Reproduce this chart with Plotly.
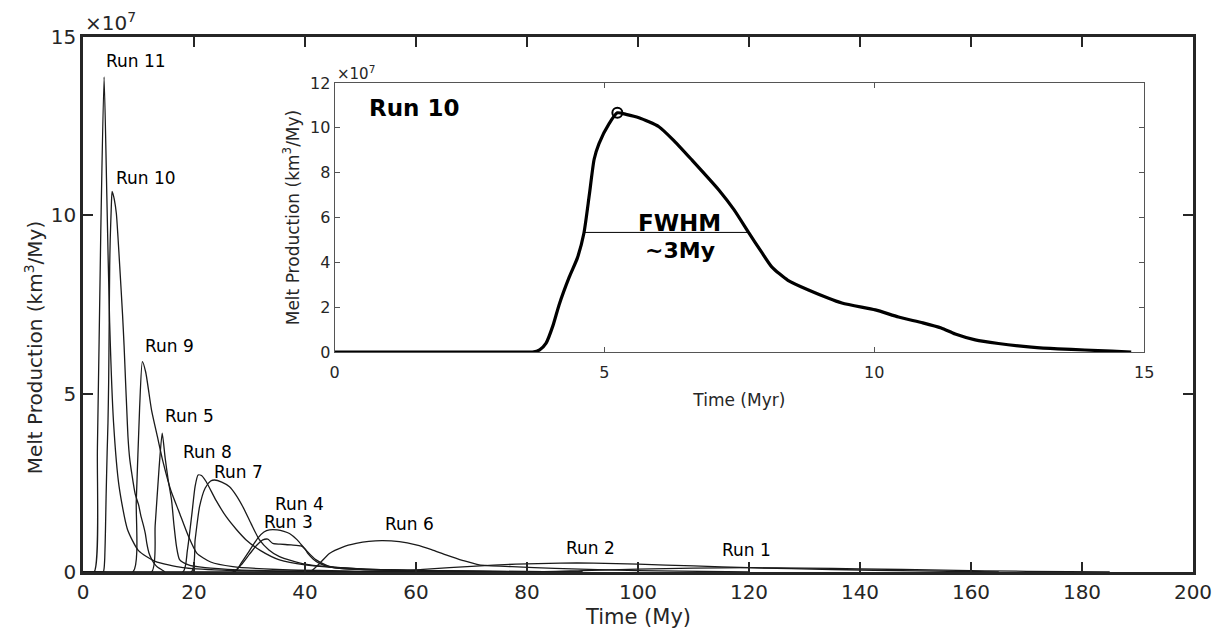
import plotly.graph_objects as go

# ---------------- data (values in units of 1e7 km^3/My) ----------------
run10_t = [0, 1, 2, 3, 3.5, 3.67, 3.8, 3.92, 4.05, 4.16, 4.35, 4.50, 4.62, 4.72, 4.81, 4.90, 5.09, 5.24,
           5.40, 5.64, 6.01, 6.30, 6.62, 7.12, 7.40, 7.68, 7.90, 8.10, 8.40, 8.78, 9.40, 10.02, 10.45,
           10.90, 11.24, 11.50, 11.87, 12.30, 12.91, 13.40, 13.90, 14.40, 14.76]
run10_y = [0, 0, 0, 0, 0, 0.0, 0.1, 0.4, 1.2, 2.1, 3.35, 4.2, 5.3, 7.0, 8.6, 9.3, 10.2, 10.67,
           10.6, 10.45, 10.05, 9.4, 8.57, 7.23, 6.35, 5.3, 4.5, 3.8, 3.2, 2.77, 2.19, 1.88, 1.56,
           1.3, 1.07, 0.8, 0.54, 0.38, 0.22, 0.14, 0.09, 0.04, 0.0]

run11_t = [0, 2.0, 2.6, 3.2, 3.8, 4.3, 4.8, 5.5, 6.5, 8, 10, 13, 18, 25, 35, 50]
run11_y = [0, 0, 3.5, 9.5, 13.88, 10.5, 7.0, 4.2, 2.4, 1.2, 0.6, 0.3, 0.12, 0.05, 0.02, 0]

run9_t = [0, 9.0, 9.6, 10.2, 10.7, 11.3, 12.35, 13.4, 14.4, 15.8, 17.4, 19.0, 20.5, 23, 27, 35, 50, 65]
run9_y = [0, 0, 2.0, 4.6, 5.9, 5.6, 4.54, 3.8, 3.1, 2.3, 1.65, 1.0, 0.53, 0.28, 0.15, 0.07, 0.02, 0]

run5_t = [0, 12.35, 13.0, 13.7, 14.27, 14.8, 15.35, 15.95, 16.4, 16.85, 17.4, 19, 22, 28, 40, 55]
run5_y = [0, 0, 1.3, 2.9, 3.89, 3.2, 2.58, 2.02, 1.3, 0.71, 0.35, 0.2, 0.12, 0.06, 0.02, 0]

run8_t = [0, 18.0, 18.8, 19.6, 20.2, 20.74, 21.4, 22.2, 24.0, 25.8, 27.6, 29.4, 32.0, 35.4, 40, 50, 65, 80]
run8_y = [0, 0, 0.6, 1.6, 2.4, 2.72, 2.7, 2.53, 2.0, 1.55, 1.2, 0.9, 0.6, 0.34, 0.2, 0.09, 0.03, 0]

run7_t = [0, 19.5, 20.2, 21.0, 22.0, 23.0, 23.7, 25.0, 26.4, 27.6, 28.8, 30.3, 31.8, 33.5, 35.4, 40, 50, 65, 85]
run7_y = [0, 0, 0.9, 1.83, 2.35, 2.55, 2.58, 2.52, 2.39, 2.15, 1.83, 1.35, 0.9, 0.62, 0.43, 0.22, 0.09, 0.03, 0]

run4_t = [0, 27.3, 28.5, 30.0, 31.5, 32.6, 33.6, 35.0, 36.2, 37.2, 38.6, 39.9, 41.0, 42.0, 44.0, 46.2, 55, 70, 90]
run4_y = [0, 0, 0.25, 0.6, 0.95, 1.12, 1.18, 1.18, 1.14, 1.08, 0.9, 0.66, 0.48, 0.34, 0.18, 0.1, 0.05, 0.02, 0]

run3_t = [0, 27.0, 28.5, 30.0, 31.3, 32.4, 33.3, 34.2, 35.5, 37.5, 39.3, 40.0, 40.5, 41.5, 42.6, 44.5, 50, 65, 90]
run3_y = [0, 0, 0.2, 0.5, 0.75, 0.9, 0.92, 0.8, 0.78, 0.76, 0.73, 0.65, 0.52, 0.36, 0.24, 0.14, 0.07, 0.03, 0]

run6_t = [0, 40.8, 42.5, 44.4, 46.8, 49.2, 51.5, 54.0, 57.0, 60.0, 62.8, 65.4, 68.5, 71.4, 77.3, 85, 100, 120]
run6_y = [0, 0, 0.22, 0.52, 0.7, 0.8, 0.86, 0.88, 0.85, 0.76, 0.63, 0.48, 0.32, 0.2, 0.15, 0.1, 0.04, 0]

run2_t = [0, 55, 62, 70, 78, 86, 92, 100, 110, 120, 135, 150, 165]
run2_y = [0, 0, 0.08, 0.16, 0.22, 0.25, 0.25, 0.22, 0.17, 0.12, 0.07, 0.03, 0]

run1_t = [0, 80, 90, 100, 110, 120, 130, 140, 155, 170, 185]
run1_y = [0, 0, 0.04, 0.08, 0.11, 0.12, 0.11, 0.09, 0.05, 0.02, 0]

runs = [
    ("Run 11", run11_t, run11_y),
    ("Run 10", run10_t, run10_y),
    ("Run 9", run9_t, run9_y),
    ("Run 5", run5_t, run5_y),
    ("Run 8", run8_t, run8_y),
    ("Run 7", run7_t, run7_y),
    ("Run 4", run4_t, run4_y),
    ("Run 3", run3_t, run3_y),
    ("Run 6", run6_t, run6_y),
    ("Run 2", run2_t, run2_y),
    ("Run 1", run1_t, run1_y),
]

# label anchor positions (time, value) for each run's text
label_pos = {
    "Run 11": (9.5, 14.33), "Run 10": (11.3, 11.05), "Run 9": (15.6, 6.34),
    "Run 5": (19.1, 4.37), "Run 8": (22.5, 3.36), "Run 7": (28.1, 2.80),
    "Run 4": (39.0, 1.91), "Run 3": (37.0, 1.40), "Run 6": (58.8, 1.35),
    "Run 2": (91.5, 0.67), "Run 1": (119.6, 0.62),
}

x_ticks_main = [0, 20, 40, 60, 80, 100, 120, 140, 160, 180, 200]
y_ticks_main = [0, 5, 10, 15]
x_ticks_inset = [0, 5, 10, 15]
y_ticks_inset = [0, 2, 4, 6, 8, 10, 12]

# FWHM marker for run 10
peak_idx = max(range(len(run10_y)), key=lambda i: run10_y[i])
peak_t, peak_v = run10_t[peak_idx], run10_y[peak_idx]
fwhm_t = [4.62, 7.68]
half_v = peak_v / 2

# ---------------- figure ----------------
fig = go.Figure()
for name, t, y in runs:
    fig.add_trace(go.Scatter(x=t, y=y, mode="lines", name=name,
                             line=dict(color="#1a1a1a", width=1.3, shape="spline", smoothing=0.6),
                             xaxis="x", yaxis="y", showlegend=False))

# inset
fig.add_trace(go.Scatter(x=run10_t, y=run10_y, mode="lines",
                         line=dict(color="black", width=3.2, shape="spline", smoothing=0.6),
                         xaxis="x2", yaxis="y2", showlegend=False))
fig.add_trace(go.Scatter(x=fwhm_t, y=[half_v, half_v], mode="lines",
                         line=dict(color="black", width=1),
                         xaxis="x2", yaxis="y2", showlegend=False))
fig.add_trace(go.Scatter(x=[peak_t], y=[peak_v], mode="markers",
                         marker=dict(symbol="circle-open", size=10, color="black", line=dict(width=2)),
                         xaxis="x2", yaxis="y2", showlegend=False))

font_main = "DejaVu Sans, Liberation Sans, Arial, sans-serif"
tick_col = "#262626"

annotations = []
for name, _, _ in runs:
    lx, ly = label_pos[name]
    annotations.append(dict(x=lx, y=ly, xref="x", yref="y", text=name, showarrow=False,
                            font=dict(family=font_main, size=17, color="black")))

annotations += [
    dict(x=0, y=1.0, xref="paper", yref="paper", xanchor="left", yanchor="bottom",
         text="×10<sup>7</sup>", showarrow=False, yshift=0,
         font=dict(family=font_main, size=20, color=tick_col)),
    dict(x=0, y=1.0, xref="x2 domain", yref="y2 domain", xanchor="left", yanchor="bottom",
         text="×10<sup>7</sup>", showarrow=False, yshift=-2,
         font=dict(family=font_main, size=15, color=tick_col)),
    dict(x=0.6, y=10.9, xref="x2", yref="y2", text="<b>Run 10</b>", showarrow=False,
         xanchor="left", font=dict(family=font_main, size=23, color="black")),
    dict(x=6.4, y=half_v, xref="x2", yref="y2", text="<b>FWHM</b>", showarrow=False,
         yanchor="bottom", yshift=-6, font=dict(family=font_main, size=23, color="black")),
    dict(x=6.4, y=half_v, xref="x2", yref="y2", text="<b>~3My</b>", showarrow=False,
         yanchor="top", yshift=-4, font=dict(family=font_main, size=22, color="black")),
    # main axis titles
    dict(x=0.5, y=0, xref="paper", yref="paper", xanchor="center", yanchor="top", yshift=-31,
         text="Time (My)", showarrow=False, font=dict(family=font_main, size=21, color=tick_col)),
    dict(x=0, y=0.42, xref="paper", yref="paper", xanchor="right", yanchor="middle", xshift=-34,
         text="Melt Production (km<sup>3</sup>/My)", textangle=-90, showarrow=False,
         font=dict(family=font_main, size=20, color=tick_col)),
]

fig.update_layout(
    width=1216, height=635,
    margin=dict(l=75, r=29, t=29, b=71),
    paper_bgcolor="white", plot_bgcolor="white",
    font=dict(family=font_main, color=tick_col),
    annotations=annotations,
    xaxis=dict(domain=[0, 1], range=[0, 200], tickvals=x_ticks_main, ticks="inside", ticklen=10,
               tickwidth=2, tickcolor="#262626", showline=True, linewidth=2.5, linecolor="#262626",
               mirror="allticks", showgrid=False, zeroline=False, ticklabelstandoff=0,
               tickfont=dict(size=20, color=tick_col)),
    yaxis=dict(domain=[0, 1], range=[0, 15], tickvals=y_ticks_main, ticks="inside", ticklen=10,
               tickwidth=2, tickcolor="#262626", showline=True, linewidth=2.5, linecolor="#262626",
               mirror="allticks", showgrid=False, zeroline=False,
               tickfont=dict(size=20, color=tick_col)),
    xaxis2=dict(domain=[0.2266, 0.956], anchor="y2", range=[0, 15], tickvals=x_ticks_inset,
                ticks="inside", ticklen=5, tickwidth=1, tickcolor="#555", showline=True, linewidth=1,
                linecolor="#555", mirror="allticks", showgrid=False, zeroline=False,
                ticklabelstandoff=6,
                tickfont=dict(size=16, color=tick_col),
                title=dict(text="Time (Myr)", font=dict(size=17, color=tick_col), standoff=12)),
    yaxis2=dict(domain=[0.4112, 0.914], anchor="x2", range=[0, 12], tickvals=y_ticks_inset,
                ticks="inside", ticklen=5, tickwidth=1, tickcolor="#555", showline=True, linewidth=1,
                linecolor="#555", mirror="allticks", showgrid=False, zeroline=False,
                tickfont=dict(size=16, color=tick_col),
                title=dict(text="Melt Production (km<sup>3</sup>/My)", font=dict(size=17, color=tick_col),
                           standoff=6)),
)

fig.write_html("out.html")
